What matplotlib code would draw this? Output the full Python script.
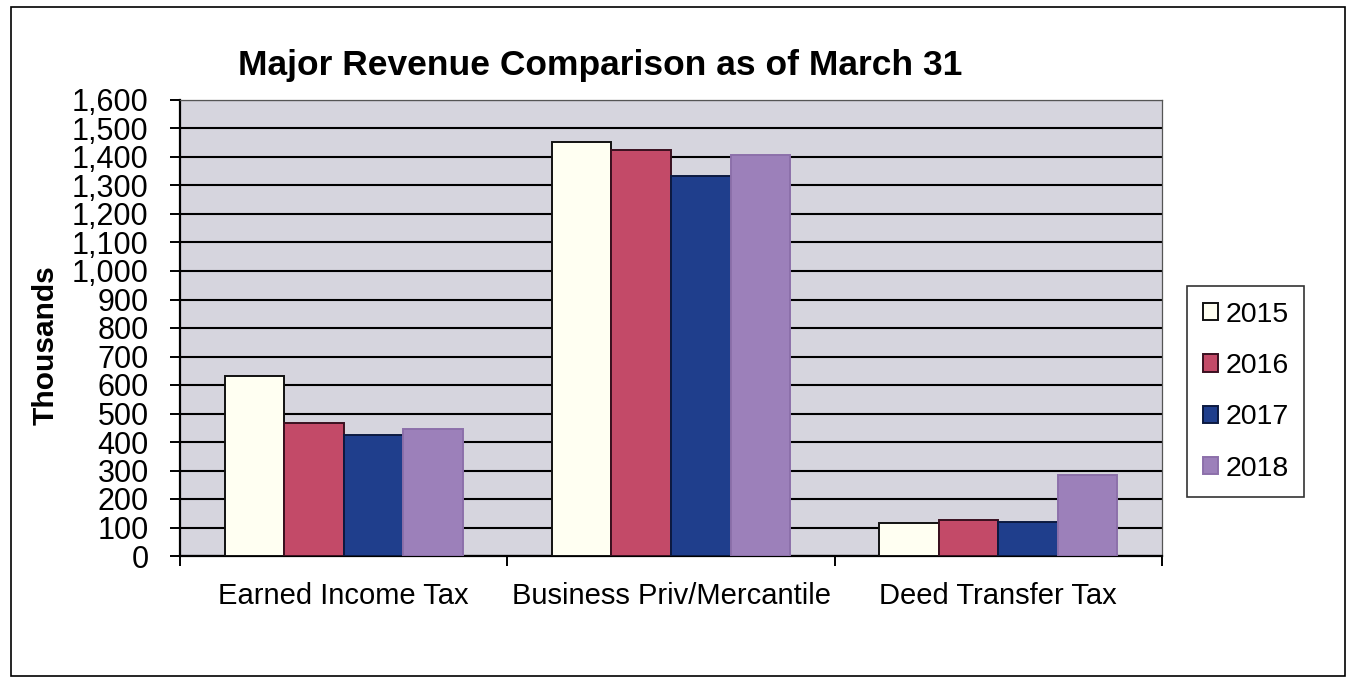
import numpy as np
import matplotlib
matplotlib.use('Agg')
import matplotlib.pyplot as plt
from matplotlib.patches import Rectangle
from matplotlib.ticker import FuncFormatter, FixedLocator

plt.rcParams['font.family'] = ['Liberation Sans', 'DejaVu Sans']

# ── Data ──────────────────────────────────────────────────────
categories = ['Earned Income Tax', 'Business Priv/Mercantile', 'Deed Transfer Tax']
years = ['2015', '2016', '2017', '2018']
rev_2015 = [630, 1452, 115]
rev_2016 = [468, 1426, 125]
rev_2017 = [426, 1335, 118]
rev_2018 = [444, 1408, 285]

series = [rev_2015, rev_2016, rev_2017, rev_2018]
colors = ['#FFFFF2', '#C34A68', '#1F3E8C', '#9C80BA']
edges = ['#111111', '#3a1020', '#0c1a40', '#8c70aa']

# ── Figure ────────────────────────────────────────────────────
W, H = 1351, 680
fig = plt.figure(figsize=(W / 100, H / 100), dpi=100)
fig.patch.set_facecolor('white')
fig.add_artist(Rectangle((11 / W, 1 - 676 / H), 1334 / W, 669 / H,
                         transform=fig.transFigure, fill=False,
                         edgecolor='black', linewidth=1.2))

ax = fig.add_axes([180 / W, 1 - 556 / H, 982 / W, 456 / H])
ax.set_facecolor('#D6D5DE')

x = np.arange(len(categories))
bw = 1 / 5.5
for i, (vals, c, e) in enumerate(zip(series, colors, edges)):
    ax.bar(x + (i - 1.5) * bw, vals, width=bw, color=c, edgecolor=e,
           linewidth=1.4, label=years[i], zorder=3)

ax.set_xlim(-0.5, 2.5)
ax.set_ylim(0, 1600)
ax.yaxis.set_major_locator(FixedLocator(np.arange(0, 1601, 100)))
ax.yaxis.set_major_formatter(FuncFormatter(lambda v, p: f'{int(v):,}'))
ax.grid(axis='y', color='black', linewidth=1.5, zorder=1)

ax.set_xticks(x)
ax.set_xticklabels(categories, fontsize=21)
ax.tick_params(axis='x', length=0, pad=19)
ax.set_xticks([-0.5, 0.5, 1.5, 2.5], minor=True)
ax.tick_params(axis='x', which='minor', length=7, width=1.4, direction='out')
ax.tick_params(axis='y', labelsize=22, length=7.5, width=1.4,
               direction='out', pad=15)

for s in ['left', 'bottom']:
    ax.spines[s].set_color('black')
    ax.spines[s].set_linewidth(1.6)
for s in ['top', 'right']:
    ax.spines[s].set_color('#555555')
    ax.spines[s].set_linewidth(0.9)

fig.text(46 / W, 1 - 345 / H, 'Thousands', rotation=90, ha='center',
         va='center', fontsize=21.5, fontweight='bold')
fig.text(600 / W, 1 - 66 / H, 'Major Revenue Comparison as of March 31',
         ha='center', va='center', fontsize=25.5, fontweight='bold')

leg = ax.legend(loc='upper left', bbox_to_anchor=(1187 / W, 1 - 286 / H),
                bbox_transform=fig.transFigure, frameon=True, fancybox=False,
                fontsize=20.5, handlelength=0.55, handleheight=0.55,
                handletextpad=0.25, labelspacing=0.89, borderpad=0.55,
                borderaxespad=0)
leg.get_frame().set_edgecolor('black')
leg.get_frame().set_linewidth(1.2)

fig.savefig('out.png', dpi=100)
